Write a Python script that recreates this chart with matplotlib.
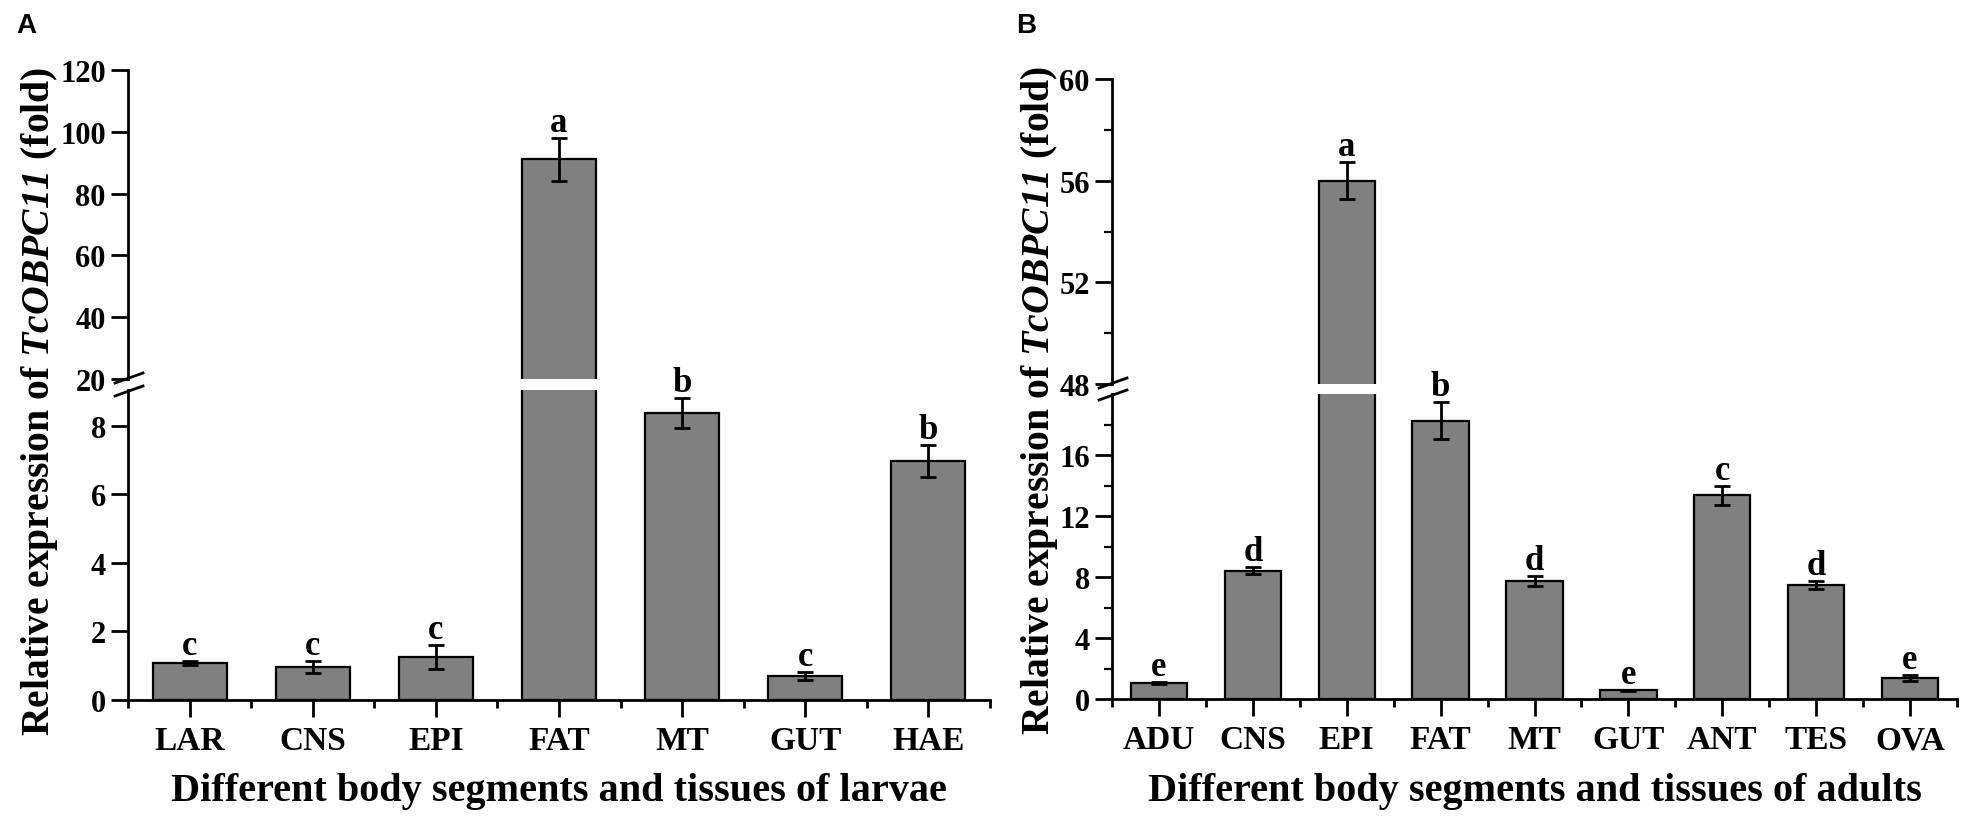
import numpy as np
import matplotlib
matplotlib.use("Agg")
import matplotlib.pyplot as plt
from matplotlib.lines import Line2D

plt.rcParams['font.family'] = ['Liberation Serif', 'DejaVu Serif']
plt.rcParams['font.weight'] = 'bold'
plt.rcParams['mathtext.fontset'] = 'custom'
plt.rcParams['mathtext.it'] = 'Liberation Serif:italic:bold'
# digits inside math go through rm, gene name is all italic in the figure
plt.rcParams['mathtext.rm'] = 'Liberation Serif:italic:bold'

# panel A - larvae
larvae_names = ["LAR", "CNS", "EPI", "FAT", "MT", "GUT", "HAE"]
larvae_mean = [1.07, 0.95, 1.25, 91.1, 8.38, 0.70, 6.98]
larvae_err = [0.05, 0.17, 0.35, 6.9, 0.45, 0.12, 0.47]
larvae_letters = ["c", "c", "c", "a", "b", "c", "b"]

# panel B - adults
adult_names = ["ADU", "CNS", "EPI", "FAT", "MT", "GUT", "ANT", "TES", "OVA"]
adult_mean = [1.05, 8.42, 56.0, 18.26, 7.74, 0.57, 13.35, 7.46, 1.37]
adult_err = [0.05, 0.22, 0.72, 1.2, 0.33, 0.05, 0.62, 0.27, 0.20]
adult_letters = ["e", "d", "a", "b", "d", "e", "c", "d", "e"]

W, H = 1975, 829
fig = plt.figure(figsize=(W / 100, H / 100), dpi=100)


def box(left, right, top, bottom):
    # pixel box -> figure fraction rect
    return [left / W, 1 - bottom / H, (right - left) / W, (bottom - top) / H]


def fx(x, y):
    return x / W, 1 - y / H


def draw_panel(rect_top, rect_bot, names, means, errs, letters, top_lim, bot_lim,
               top_ticks, bot_ticks, top_minor=None, bot_minor=None):
    ax_t = fig.add_axes(rect_top)
    ax_b = fig.add_axes(rect_bot)
    x = np.arange(len(names))
    for ax in (ax_t, ax_b):
        ax.bar(x, means, width=0.6, color='#808080', edgecolor='black', linewidth=1.6)
        ax.errorbar(x, means, yerr=errs, fmt='none', ecolor='black',
                    elinewidth=2, capsize=5.5, capthick=2)
        ax.set_xlim(-0.5, len(names) - 0.5)
        ax.spines['right'].set_visible(False)
        ax.spines['top'].set_visible(False)
        ax.spines['left'].set_linewidth(2)
        ax.spines['bottom'].set_linewidth(2)
        ax.tick_params(axis='y', which='major', direction='out', length=12, width=2,
                       labelsize=22, pad=4)
        ax.tick_params(axis='y', which='minor', direction='out', length=6, width=1.6)
    ax_t.set_ylim(*top_lim)
    ax_b.set_ylim(*bot_lim)
    ax_t.set_yticks(top_ticks)
    ax_b.set_yticks(bot_ticks)
    if top_minor is not None:
        ax_t.set_yticks(top_minor, minor=True)
    if bot_minor is not None:
        ax_b.set_yticks(bot_minor, minor=True)
    ax_t.spines['bottom'].set_visible(False)
    ax_t.set_xticks([])
    ax_b.set_xticks(x)
    ax_b.set_xticklabels(names)
    ax_b.set_xticks(np.arange(len(names) + 1) - 0.5, minor=True)
    ax_b.tick_params(axis='x', which='major', direction='out', length=12, width=2,
                     labelsize=24, pad=6)
    ax_b.tick_params(axis='x', which='minor', direction='out', length=6, width=2)

    for i, (m, e, lt) in enumerate(zip(means, errs, letters)):
        ax = ax_t if m > bot_lim[1] else ax_b
        ax.annotate(lt, (i, m + e), xytext=(0, 5), textcoords='offset points',
                    ha='center', va='baseline', fontsize=25, fontweight='bold',
                    annotation_clip=False)
    return ax_t, ax_b


draw_panel(box(128, 990, 71, 380), box(128, 990, 391, 700.7),
           larvae_names, larvae_mean, larvae_err, larvae_letters,
           (20, 120), (0, 9.05), [20, 40, 60, 80, 100, 120], [0, 2, 4, 6, 8])

draw_panel(box(1112, 1957, 80, 385), box(1112, 1957, 395, 700),
           adult_names, adult_mean, adult_err, adult_letters,
           (48, 60), (0, 20), [48, 52, 56, 60], [0, 4, 8, 12, 16],
           top_minor=[50, 54, 58], bot_minor=[2, 6, 10, 14, 18])

# break marks on the y spines
for sx, y1, y2 in [(129, 379, 392), (1113, 384, 396)]:
    for yc in (y1, y2):
        xa, ya = fx(sx - 14, yc + 5)
        xb, yb = fx(sx + 14, yc - 5)
        fig.add_artist(Line2D([xa, xb], [ya, yb], color='black', lw=2))

ylab = r"Relative expression of $\mathit{TcOBPC11}$ (fold)"
fig.text(*fx(40, 401), ylab, rotation=90, ha='center', va='center', fontsize=28.5,
         fontweight='bold')
fig.text(*fx(1040, 400), ylab, rotation=90, ha='center', va='center', fontsize=28.5,
         fontweight='bold')

fig.text(*fx(559, 792), "Different body segments and tissues of larvae",
         ha='center', va='center', fontsize=29, fontweight='bold')
fig.text(*fx(1535, 792), "Different body segments and tissues of adults",
         ha='center', va='center', fontsize=29, fontweight='bold')

fig.text(*fx(16, 13), "A", ha='left', va='top', fontsize=20, fontweight='bold',
         family='Liberation Sans')
fig.text(*fx(1016, 13), "B", ha='left', va='top', fontsize=20, fontweight='bold',
         family='Liberation Sans')

fig.savefig("out.png", dpi=100, facecolor='white')
